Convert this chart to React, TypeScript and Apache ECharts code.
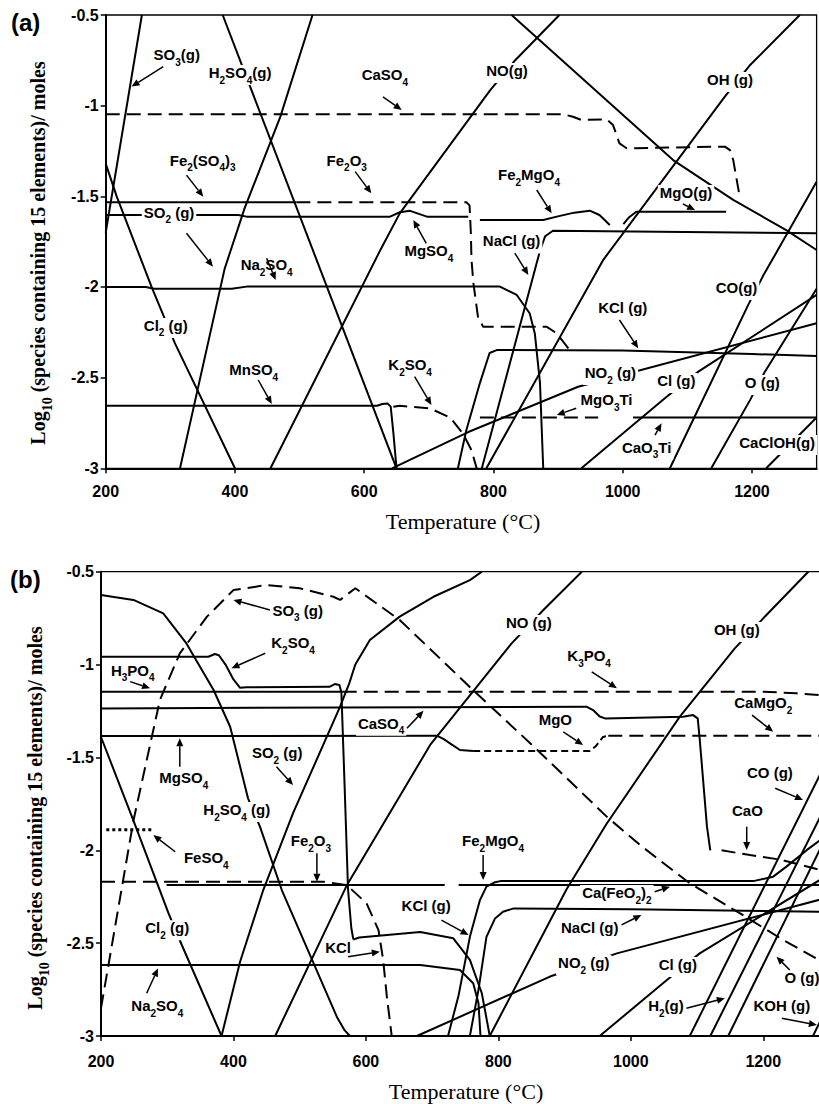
import { useEffect, useRef } from 'react';
import * as echarts from 'echarts';

type Pt = [number, number];

// ---------------- Panel (a) ----------------
const aSO3g: Pt[] = [[200, -1.7], [256, -0.5]];
const aCl2g: Pt[] = [[200, -1.32], [217, -1.5], [271, -2.0], [307, -2.31], [400, -3]];
const aH2SO4g: Pt[] = [[381, -0.5], [650, -3]];
const aSO2g: Pt[] = [[315, -3], [384, -1.9], [415, -1.565], [470, -1.063], [520, -0.5]];
const aNOg: Pt[] = [[455, -3], [625, -1.796], [655, -1.594], [795, -0.914], [834, -0.748], [902, -0.5]];
const aDesc: Pt[] = [[828, -0.5], [1078, -1.3], [1171, -1.52], [1253, -1.686], [1300, -1.796]];
const aOHg: Pt[] = [[789, -3], [970, -1.85], [1158, -0.95], [1196, -0.78], [1274, -0.5]];
const aFe2SO43: Pt[] = [[200, -1.533], [495, -1.533]];
const aFe2O3: Pt[] = [[495, -1.533], [758, -1.533], [763, -1.55], [765, -1.7], [766, -1.85], [769, -1.98], [776, -2.164], [784, -2.219], [882, -2.219], [898, -2.256], [918, -2.348]];
const aMgSO4: Pt[] = [[200, -1.603], [405, -1.603], [418, -1.612], [640, -1.612], [655, -1.588], [671, -1.58], [697, -1.612], [761, -1.612]];
const aFe2MgO4: Pt[] = [[779, -1.63], [877, -1.631], [898, -1.612], [925, -1.59], [949, -1.579], [964, -1.603], [980, -1.658]];
const aMgOg: Pt[] = [[1001, -1.653], [1010, -1.615], [1021, -1.585], [1160, -1.585]];
const aNaClg: Pt[] = [[782, -3], [872, -1.8], [880, -1.72], [892, -1.69], [1300, -1.704]];
const aKClg: Pt[] = [[745, -3], [758, -2.79], [779, -2.53], [794, -2.364], [805, -2.348], [1000, -2.35], [1200, -2.37], [1300, -2.38]];
const aNa2SO4: Pt[] = [[200, -2.0], [262, -2.0], [275, -2.01], [395, -2.01], [418, -1.998], [810, -1.998], [836, -2.044], [856, -2.145], [864, -2.256], [872, -2.53], [877, -3]];
const aMnSO4: Pt[] = [[200, -2.655], [620, -2.655], [628, -2.645], [636, -2.642], [641, -2.66], [645, -2.8], [650, -3]];
const aK2SO4: Pt[] = [[645, -2.66], [655, -2.655], [702, -2.67], [733, -2.72], [753, -2.81], [766, -2.9], [774, -3]];
const aNO2g: Pt[] = [[643, -3], [761, -2.8], [931, -2.55], [1300, -2.2]];
const aMgO3Ti: Pt[] = [[779, -2.72], [962, -2.72]];
const aCaO3Ti: Pt[] = [[1016, -2.72], [1300, -2.72]];
const aCOg: Pt[] = [[1073, -3], [1194, -2.1], [1217, -1.94], [1300, -1.42]];
const aClg: Pt[] = [[936, -3], [1068, -2.605], [1117, -2.467], [1300, -2.044]];
const aOg: Pt[] = [[1137, -3], [1197, -2.624], [1220, -2.467], [1300, -2.01]];
const aCaClOHg: Pt[] = [[1222, -3], [1300, -2.72]];
const aCaSO4: Pt[] = [[200, -1.048], [905, -1.048], [913, -1.052], [923, -1.061], [936, -1.079], [975, -1.075], [985, -1.107], [995, -1.208], [1006, -1.235], [1158, -1.226], [1166, -1.245], [1171, -1.3], [1181, -1.502]];

// ---------------- Panel (b) ----------------
const bH2SO4g: Pt[] = [[200, -0.625], [249, -0.652], [294, -0.724], [329, -0.886], [370, -1.137], [395, -1.335], [422, -1.72], [440, -1.873], [473, -2.214], [556, -2.896], [568, -2.97], [576, -3]];
const bSO3g: Pt[] = [[200, -2.85], [249, -1.84], [289, -1.19], [319, -0.94], [360, -0.742], [400, -0.599], [450, -0.572], [500, -0.589], [551, -0.635], [561, -0.652], [584, -0.589], [651, -0.76], [767, -1.155], [853, -1.44], [964, -1.82], [1014, -1.972], [1089, -2.178], [1165, -2.34], [1230, -2.483], [1284, -2.59], [1300, -2.62]];
const bCl2g: Pt[] = [[200, -1.39], [249, -1.84], [302, -2.34], [322, -2.51], [382, -3]];
const bK2SO4: Pt[] = [[200, -0.958], [362, -0.958], [372, -0.943], [378, -0.95], [388, -1.0], [400, -1.08], [410, -1.125], [420, -1.122], [545, -1.12], [553, -1.105], [560, -1.11], [563, -1.15], [568, -1.67], [573, -2.21], [578, -2.42], [581, -2.48]];
const bKCl: Pt[] = [[581, -2.48], [590, -2.47], [682, -2.44], [732, -2.474], [757, -2.59], [775, -2.77], [787, -3]];
const bH3PO4: Pt[] = [[200, -1.146], [565, -1.146]];
const bK3PO4: Pt[] = [[565, -1.146], [1200, -1.146], [1250, -1.155], [1300, -1.168]];
const bCaSO4: Pt[] = [[200, -1.236], [933, -1.227], [943, -1.245], [953, -1.28], [961, -1.29], [1079, -1.281], [1094, -1.272], [1101, -1.29], [1104, -1.4], [1115, -1.873], [1120, -2.0]];
const bMgSO4: Pt[] = [[200, -1.385], [707, -1.383], [717, -1.4], [727, -1.424], [742, -1.46], [762, -1.465]];
const bMgO: Pt[] = [[762, -1.465], [938, -1.465], [947, -1.44], [958, -1.39], [966, -1.383]];
const bCaMgO2: Pt[] = [[966, -1.383], [1300, -1.383]];
const bFe2O3: Pt[] = [[200, -2.169], [536, -2.169], [571, -2.187], [601, -2.286], [619, -2.43], [626, -2.59], [632, -2.8], [639, -3]];
const bCaFeO22a: Pt[] = [[299, -2.187], [719, -2.187]];
const bCaFeO22b: Pt[] = [[740, -2.187], [1300, -2.187]];
const bFe2MgO4: Pt[] = [[724, -3], [740, -2.78], [757, -2.466], [772, -2.27], [782, -2.196], [795, -2.172], [803, -2.166], [1185, -2.166], [1215, -2.142], [1235, -2.088], [1266, -1.998], [1286, -1.945], [1300, -1.91]];
const bNaClg: Pt[] = [[757, -3], [770, -2.75], [782, -2.466], [795, -2.367], [807, -2.331], [823, -2.313], [1000, -2.318], [1300, -2.331]];
const bNa2SO4: Pt[] = [[200, -2.618], [682, -2.618], [742, -2.645], [762, -2.716], [770, -2.824], [773, -3]];
const bSO2g: Pt[] = [[382, -3], [410, -2.6], [445, -2.214], [490, -1.8], [561, -1.227], [575, -1.1], [584, -1.0], [606, -0.868], [651, -0.742], [702, -0.635], [757, -0.545], [775, -0.5]];
const bNOg: Pt[] = [[463, -3], [571, -2.19], [697, -1.433], [820, -0.886], [868, -0.706], [926, -0.5]];
const bOHg: Pt[] = [[787, -3], [903, -2.21], [963, -1.86], [1074, -1.28], [1157, -0.913], [1200, -0.751], [1268, -0.5]];
const bNO2g: Pt[] = [[677, -3], [878, -2.68], [979, -2.555], [1300, -2.252]];
const bClg: Pt[] = [[953, -3], [1054, -2.7], [1104, -2.555], [1300, -2.128]];
const bCOg: Pt[] = [[1089, -3], [1300, -1.49]];
const bH2g: Pt[] = [[1120, -3], [1300, -1.72]];
const bOg: Pt[] = [[1147, -3], [1300, -1.89]];
const bKOHg: Pt[] = [[1275, -3], [1300, -2.82]];
const bCaO: Pt[] = [[1137, -2.0], [1180, -2.026], [1225, -2.05], [1286, -2.106], [1300, -2.115]];
const bFeSO4: Pt[] = [[208, -1.89], [276, -1.89]];

// axis ticks
const X_MIN = 200, X_MAX = 1300, X_STEP = 200;
const Y_MIN = -3, Y_MAX = -0.5, Y_STEP = 0.5;

// series list: [grid, data, line kind]
const SERIES: [number, Pt[], string][] = [
  [0, aSO3g, 'solid'], [0, aCl2g, 'solid'], [0, aH2SO4g, 'solid'], [0, aSO2g, 'solid'],
  [0, aNOg, 'solid'], [0, aDesc, 'solid'], [0, aOHg, 'solid'], [0, aFe2SO43, 'solid'],
  [0, aFe2O3, 'dash'], [0, aMgSO4, 'solid'], [0, aFe2MgO4, 'solid'], [0, aMgOg, 'solid'],
  [0, aNaClg, 'solid'], [0, aKClg, 'solid'], [0, aNa2SO4, 'solid'], [0, aMnSO4, 'solid'],
  [0, aK2SO4, 'dash'], [0, aNO2g, 'solid'], [0, aMgO3Ti, 'dash'], [0, aCaO3Ti, 'solid'],
  [0, aCOg, 'solid'], [0, aClg, 'solid'], [0, aOg, 'solid'], [0, aCaClOHg, 'solid'],
  [0, aCaSO4, 'dash'],
  [1, bH2SO4g, 'solid'], [1, bSO3g, 'dash'], [1, bCl2g, 'solid'], [1, bK2SO4, 'solid'],
  [1, bKCl, 'solid'], [1, bH3PO4, 'solid'], [1, bK3PO4, 'dash'], [1, bCaSO4, 'solid'],
  [1, bMgSO4, 'solid'], [1, bMgO, 'short'], [1, bCaMgO2, 'dash'], [1, bFe2O3, 'dash'],
  [1, bCaFeO22a, 'solid'], [1, bCaFeO22b, 'solid'], [1, bFe2MgO4, 'solid'], [1, bNaClg, 'solid'],
  [1, bNa2SO4, 'solid'], [1, bSO2g, 'solid'], [1, bNOg, 'solid'], [1, bOHg, 'solid'],
  [1, bNO2g, 'solid'], [1, bClg, 'solid'], [1, bCOg, 'solid'], [1, bH2g, 'solid'],
  [1, bOg, 'solid'], [1, bKOHg, 'solid'], [1, bCaO, 'dash'], [1, bFeSO4, 'dot'],
];

// species labels [grid, text, T, value, align]
const LABELS: [number, string, number, number, string?][] = [
  [0, 'SO_3(g)', 310, -0.732], [0, 'H_2SO_4(g)', 408, -0.831], [0, 'CaSO_4', 632, -0.842],
  [0, 'NO(g)', 821, -0.82], [0, 'OH (g)', 1166, -0.87], [0, 'Fe_2(SO_4)_3', 350, -1.316],
  [0, 'Fe_2O_3', 573, -1.316], [0, 'Fe_2MgO_4', 855, -1.394], [0, 'MgO(g)', 1098, -1.493],
  [0, 'SO_2 (g)', 298, -1.603], [0, 'Na_2SO_4', 449, -1.89], [0, 'MgSO_4', 700, -1.813],
  [0, 'NaCl (g)', 828, -1.76], [0, 'Cl_2 (g)', 293, -2.226], [0, 'KCl (g)', 1000, -2.127],
  [0, 'CO(g)', 1176, -2.017], [0, 'MnSO_4', 429, -2.469], [0, 'K_2SO_4', 671, -2.442],
  [0, 'NO_2 (g)', 981, -2.486], [0, 'MgO_3Ti', 975, -2.635], [0, 'Cl (g)', 1083, -2.53],
  [0, 'O (g)', 1216, -2.541], [0, 'CaO_3Ti', 1037, -2.899], [0, 'CaClOH(g)', 1239, -2.872],
  [1, 'SO_3 (g)', 497, -0.722], [1, 'K_2SO_4', 490, -0.895], [1, 'H_3PO_4', 248, -1.045],
  [1, 'MgSO_4', 325, -1.622], [1, 'SO_2 (g)', 466, -1.487], [1, 'H_2SO_4 (g)', 405, -1.794],
  [1, 'CaSO_4', 623, -1.33], [1, 'Fe_2O_3', 517, -1.961], [1, 'FeSO_4', 359, -2.053],
  [1, 'Cl_2 (g)', 300, -2.43], [1, 'Na_2SO_4', 285, -2.85], [1, 'KCl', 558, -2.538],
  [1, 'NO (g)', 846, -0.787], [1, 'OH (g)', 1160, -0.825], [1, 'K_3PO_4', 937, -0.965],
  [1, 'CaMgO_2', 1200, -1.218], [1, 'MgO', 886, -1.309], [1, 'CO (g)', 1210, -1.595],
  [1, 'CaO', 1176, -1.799], [1, 'Fe_2MgO_4', 792, -1.961], [1, 'Ca(FeO_2)_2', 979, -2.241],
  [1, 'KCl (g)', 691, -2.311], [1, 'NaCl (g)', 938, -2.43], [1, 'NO_2 (g)', 929, -2.618],
  [1, 'Cl (g)', 1071, -2.629], [1, 'H_2(g)', 1053, -2.85], [1, 'KOH (g)', 1228, -2.85],
  [1, 'O (g)', 1229, -2.699, 'left'],
];

// arrows [grid, fromT, fromV, toT, toV]
const ARROWS: [number, number, number, number, number][] = [
  [0, 289, -0.785, 240, -0.895], [0, 629, -0.951, 658, -1.024], [0, 325, -1.383, 351, -1.502],
  [0, 586, -1.364, 611, -1.483], [0, 867, -1.465, 890, -1.594], [0, 1093, -1.542, 1112, -1.576],
  [0, 325, -1.704, 366, -1.888], [0, 449, -1.842, 463, -1.962], [0, 696, -1.759, 676, -1.631],
  [0, 833, -1.813, 854, -1.934], [0, 995, -2.182, 1024, -2.338], [0, 436, -2.513, 457, -2.646],
  [0, 678, -2.495, 704, -2.651], [0, 928, -2.669, 898, -2.706], [0, 1050, -2.817, 1060, -2.752],
  [1, 455, -0.706, 400, -0.652], [1, 448, -0.939, 397, -1.02], [1, 244, -1.092, 274, -1.128],
  [1, 319, -1.55, 319, -1.397], [1, 465, -1.55, 490, -1.649], [1, 662, -1.343, 687, -1.249],
  [1, 526, -2.016, 526, -2.169], [1, 312, -2.008, 279, -1.918], [1, 269, -2.77, 286, -2.636],
  [1, 573, -2.573, 621, -2.546], [1, 941, -1.039, 979, -1.128], [1, 1183, -1.272, 1215, -1.362],
  [1, 898, -1.362, 928, -1.433], [1, 1218, -1.666, 1260, -1.729], [1, 1175, -1.873, 1175, -1.999],
  [1, 777, -2.026, 777, -2.16], [1, 1036, -2.223, 1059, -2.196], [1, 714, -2.376, 755, -2.456],
  [1, 986, -2.402, 1016, -2.348], [1, 1084, -2.851, 1142, -2.797], [1, 1228, -2.905, 1281, -2.941],
  [1, 1240, -2.645, 1220, -2.573],
];

const SANS = "'Liberation Sans', Arial, sans-serif";
const SERIF = "'Liberation Serif', 'Times New Roman', serif";

const GRIDS = [
  { left: 105.7, top: 15, width: 710.9, height: 453.3 },
  { left: 101, top: 571.7, width: 728.5, height: 464.3 },
];

function richText(s: string): string {
  let out = '';
  let buf = '';
  for (let i = 0; i < s.length; i++) {
    const c = s[i];
    if (c === '_') {
      let j = i + 1;
      let num = '';
      while (j < s.length && /[0-9]/.test(s[j])) { num += s[j]; j++; }
      if (buf) { out += '{n|' + buf + '}'; buf = ''; }
      out += '{s|' + num + '}';
      i = j - 1;
    } else {
      buf += c;
    }
  }
  if (buf) out += '{n|' + buf + '}';
  return out;
}

const LABEL_RICH = {
  n: { fontFamily: SANS, fontWeight: 'bold', fontSize: 15, lineHeight: 20, verticalAlign: 'top', fill: '#000', color: '#000' },
  s: { fontFamily: SANS, fontWeight: 'bold', fontSize: 10, lineHeight: 8, verticalAlign: 'bottom', fill: '#000', color: '#000' },
};
const YTITLE_RICH = {
  b: { fontFamily: SERIF, fontWeight: 'bold', fontSize: 20, lineHeight: 26, verticalAlign: 'top', fill: '#000' },
  s: { fontFamily: SERIF, fontWeight: 'bold', fontSize: 14, lineHeight: 12, verticalAlign: 'bottom', fill: '#000' },
};

function dashOf(kind: string): any {
  if (kind === 'dash') return [14, 7];
  if (kind === 'short') return [7, 4];
  if (kind === 'dot') return 'dotted';
  return 'solid';
}

export default function App() {
  const ref = useRef<HTMLDivElement>(null);
  useEffect(() => {
    if (!ref.current) return;
    const chart = echarts.init(ref.current, null, { renderer: 'svg' });
    const axisX = (i: number) => ({
      type: 'value', gridIndex: i, min: X_MIN, max: X_MAX, interval: X_STEP,
      axisLine: { show: true, onZero: false, lineStyle: { color: '#000', width: 2 } },
      axisTick: { show: true, length: 5, lineStyle: { color: '#000', width: 1.5 } },
      axisLabel: {
        color: '#000', fontFamily: SANS, fontWeight: 'bold', fontSize: 16, margin: i === 0 ? 15 : 17,
        showMaxLabel: false, formatter: (v: number) => String(v),
      },
      splitLine: { show: false },
    });
    const axisY = (i: number) => ({
      type: 'value', gridIndex: i, min: Y_MIN, max: Y_MAX, interval: Y_STEP,
      axisLine: { show: true, onZero: false, lineStyle: { color: '#000', width: 2 } },
      axisTick: { show: true, length: 5, lineStyle: { color: '#000', width: 1.5 } },
      axisLabel: { color: '#000', fontFamily: SANS, fontWeight: 'bold', fontSize: 16, margin: 7, formatter: (v: number) => String(v) },
      splitLine: { show: false },
    });
    const option: any = {
      animation: false,
      backgroundColor: '#fff',
      grid: GRIDS.map((g) => ({ ...g, show: true, borderColor: '#000', borderWidth: 1.3, containLabel: false, outerBoundsMode: 'none' })),
      xAxis: [axisX(0), axisX(1)],
      yAxis: [axisY(0), axisY(1)],
      series: SERIES.map(([g, data, kind]) => ({
        type: 'line', xAxisIndex: g, yAxisIndex: g, data, showSymbol: false, symbol: 'none',
        silent: true, clip: true, z: 2,
        lineStyle: { color: '#000', width: kind === 'dot' ? 3 : 2, type: dashOf(kind) },
      })),
    };
    chart.setOption(option);

    const els: any[] = [];
    const toPx = (g: number, t: number, v: number): number[] =>
      chart.convertToPixel({ gridIndex: g } as any, [t, v]) as number[];

    ARROWS.forEach(([g, t1, v1, t2, v2]) => {
      const p1 = toPx(g, t1, v1);
      const p2 = toPx(g, t2, v2);
      const dx = p2[0] - p1[0], dy = p2[1] - p1[1];
      const L = Math.hypot(dx, dy) || 1;
      const ux = dx / L, uy = dy / L;
      const hl = 8, hw = 3.5;
      const bx = p2[0] - ux * hl, by = p2[1] - uy * hl;
      els.push({ type: 'line', z: 110, silent: true, shape: { x1: p1[0], y1: p1[1], x2: bx, y2: by }, style: { stroke: '#000', lineWidth: 1.5 } });
      els.push({ type: 'polygon', z: 110, silent: true, shape: { points: [[p2[0], p2[1]], [bx - uy * hw, by + ux * hw], [bx + uy * hw, by - ux * hw]] }, style: { fill: '#000' } });
    });

    LABELS.forEach(([g, txt, t, v, align]) => {
      const p = toPx(g, t, v);
      els.push({
        type: 'text', z: 105, silent: true, x: p[0], y: p[1],
        style: { text: richText(txt), rich: LABEL_RICH, align: align || 'center', verticalAlign: 'middle', backgroundColor: '#fff', padding: [0, 2] },
      });
    });

    // panel letters
    els.push({ type: 'text', z: 120, x: 11, y: 22, style: { text: '(a)', fontFamily: SANS, fontWeight: 'bold', fontSize: 24, fill: '#000', align: 'left', verticalAlign: 'middle' } });
    els.push({ type: 'text', z: 120, x: 10, y: 579, style: { text: '(b)', fontFamily: SANS, fontWeight: 'bold', fontSize: 24, fill: '#000', align: 'left', verticalAlign: 'middle' } });
    // axis titles
    const yTitle = '{b|Log}{s|10}{b| (species containing 15 elements)/ moles}';
    els.push({ type: 'text', z: 120, x: 41, y: 253, rotation: Math.PI / 2, style: { text: yTitle, rich: YTITLE_RICH, align: 'center', verticalAlign: 'middle' } });
    els.push({ type: 'text', z: 120, x: 38, y: 818, rotation: Math.PI / 2, style: { text: yTitle, rich: YTITLE_RICH, align: 'center', verticalAlign: 'middle' } });
    els.push({ type: 'text', z: 120, x: 463, y: 521, style: { text: 'Temperature (°C)', fontFamily: SERIF, fontSize: 22, fill: '#000', align: 'center', verticalAlign: 'middle' } });
    els.push({ type: 'text', z: 120, x: 466, y: 1091, style: { text: 'Temperature (°C)', fontFamily: SERIF, fontSize: 22, fill: '#000', align: 'center', verticalAlign: 'middle' } });

    chart.setOption({ graphic: { elements: els } });
    return () => { chart.dispose(); };
  }, []);
  return (
    <div style={{ position: 'fixed', left: 0, top: 0, width: 819, height: 1104, overflow: 'hidden', background: '#fff' }}>
      <div ref={ref} style={{ width: 840, height: 1104 }} />
    </div>
  );
}
